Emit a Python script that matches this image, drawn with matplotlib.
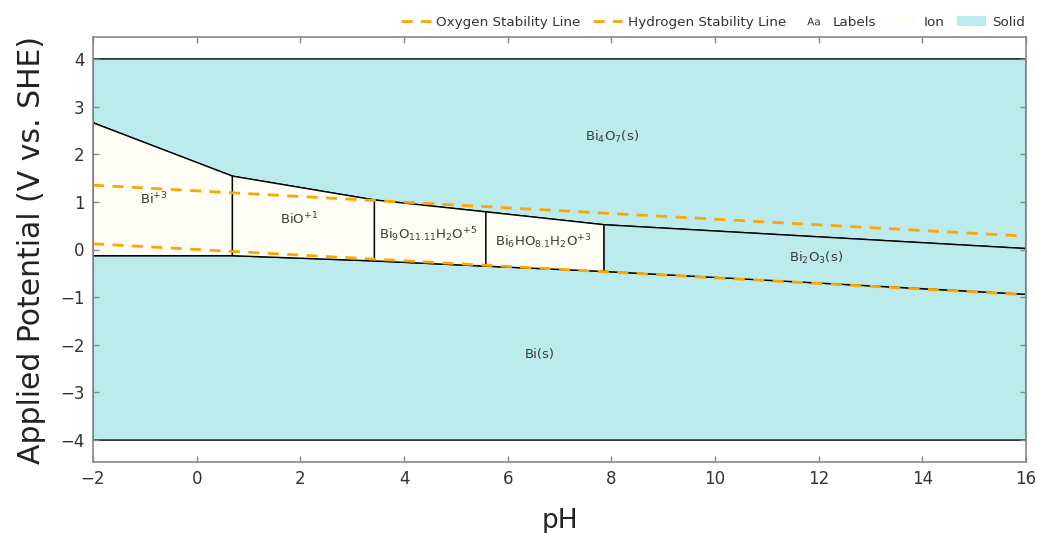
import matplotlib.pyplot as plt
from matplotlib.patches import Polygon, Patch
from matplotlib.lines import Line2D

plt.rcParams['font.family'] = ['DejaVu Sans']
plt.rcParams['mathtext.default'] = 'regular'

# phase boundary nodes (pH, upper E, lower E)
ph_nodes = [-2, 0.69, 3.43, 5.58, 7.86, 16]
upper_E = [2.66, 1.54, 1.04, 0.79, 0.52, 0.02]
lower_E = [-0.13, -0.13, -0.24, -0.35, -0.46, -0.94]

e_min, e_max = -4, 4

# species between the boundaries, one per pH interval
mid_names = [r'Bi$^{+3}$', r'BiO$^{+1}$', r'Bi$_{9}$O$_{11.11}$H$_{2}$O$^{+5}$',
             r'Bi$_{6}$HO$_{8.1}$H$_{2}$O$^{+3}$', r'Bi$_{2}$O$_{3}$(s)']
mid_kind = ['ion', 'ion', 'ion', 'ion', 'solid']
mid_label_xy = [(-0.82, 1.06), (1.98, 0.64), (4.46, 0.32), (6.68, 0.16), (11.94, -0.18)]

top_name, top_label_xy = r'Bi$_{4}$O$_{7}$(s)', (8.02, 2.36)
bot_name, bot_label_xy = 'Bi(s)', (6.62, -2.2)

# water stability lines
water_ph = [-2, 16]
o2_E = [1.35, 0.28]
h2_E = [0.12, -0.95]

solid_color = '#BBEBED'
ion_color = '#FEFEF6'
line_kw = dict(edgecolor='black', linewidth=1.0)

fig = plt.figure(figsize=(10.37, 5.33), dpi=100)
ax = fig.add_axes([93/1037, 71/533, 933/1037, 425/533])

# top solid region
top_poly = [(ph_nodes[0], e_max), (ph_nodes[-1], e_max)] + \
    list(zip(ph_nodes[::-1], upper_E[::-1]))
ax.add_patch(Polygon(top_poly, closed=True, facecolor=solid_color, **line_kw))

# bottom solid region
bot_poly = list(zip(ph_nodes, lower_E)) + [(ph_nodes[-1], e_min), (ph_nodes[0], e_min)]
ax.add_patch(Polygon(bot_poly, closed=True, facecolor=solid_color, **line_kw))

# middle regions
for i, kind in enumerate(mid_kind):
    x0, x1 = ph_nodes[i], ph_nodes[i + 1]
    poly = [(x0, lower_E[i]), (x1, lower_E[i + 1]), (x1, upper_E[i + 1]), (x0, upper_E[i])]
    fc = ion_color if kind == 'ion' else solid_color
    ax.add_patch(Polygon(poly, closed=True, facecolor=fc, **line_kw))

txt_kw = dict(ha='center', va='center', fontsize=9.5, color='#3a3a3a')
for name, (x, y) in zip(mid_names, mid_label_xy):
    ax.text(x, y, name, **txt_kw)
ax.text(*top_label_xy, top_name, **txt_kw)
ax.text(*bot_label_xy, bot_name, **txt_kw)

dash = dict(color='#FFA500', linewidth=2.0, linestyle=(0, (4, 3)))
ax.plot(water_ph, o2_E, **dash)
ax.plot(water_ph, h2_E, **dash)

ax.set_xlim(-2, 16)
ax.set_ylim(-4.46, 4.46)
ax.set_xticks(range(-2, 17, 2))
ax.set_yticks(range(-4, 5))
ax.set_xticklabels([str(v).replace('-', '\u2212') for v in range(-2, 17, 2)])
ax.set_yticklabels([str(v).replace('-', '\u2212') for v in range(-4, 5)])
ax.tick_params(direction='in', top=True, right=True, length=4, width=1,
               color='#888888', labelsize=12, labelcolor='#333333', pad=6)
for s in ax.spines.values():
    s.set_color('#888888')
    s.set_linewidth(1.2)

ax.set_xlabel('pH', fontsize=19, color='#222222', labelpad=14)
ax.set_ylabel('Applied Potential (V vs. SHE)', fontsize=21.5, color='#222222', labelpad=10)

handles = [
    Line2D([], [], **dash),
    Line2D([], [], **dash),
    Line2D([], [], linestyle='none', marker=r'$\mathrm{Aa}$', markersize=9,
           color='#333333', markeredgewidth=0),
    Patch(facecolor=ion_color, edgecolor='none'),
    Patch(facecolor=solid_color, edgecolor='none'),
]
labels = ['Oxygen Stability Line', 'Hydrogen Stability Line', 'Labels', 'Ion', 'Solid']
fig.legend(handles, labels, loc='center right', bbox_to_anchor=(0.988, 1 - 22/533),
           ncol=5, frameon=False, fontsize=9.7, labelcolor='#333333',
           handlelength=2.2, handletextpad=0.4, columnspacing=0.9,
           borderpad=0, borderaxespad=0)

fig.savefig('out.png', dpi=100)
